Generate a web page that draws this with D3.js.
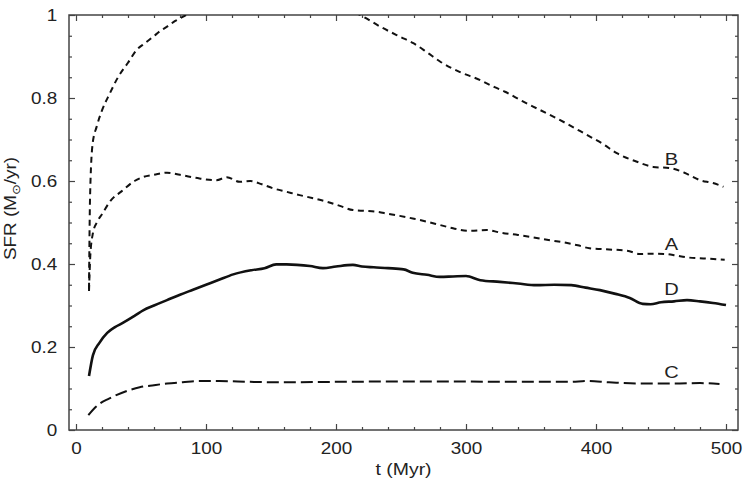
<!DOCTYPE html>
<html>
<head>
<meta charset="utf-8">
<script src="https://cdn.jsdelivr.net/npm/d3@7"></script>
<style>
  html, body { margin: 0; padding: 0; background: #fff; }
  svg { display: block; font-family: 'Liberation Sans', Arial, sans-serif; }
</style>
</head>
<body>
<div id="chart"></div>
<script>
// SFR curves (t in Myr, SFR in Msun/yr)
const tA = [10, 11, 13, 16, 20, 27, 35, 45, 52, 60, 70, 80, 95, 108, 116, 126, 134, 143, 152, 162, 172, 183, 193, 203, 213, 222, 231, 240, 249, 260, 270, 280, 290, 303, 316, 326, 340, 352, 365, 377, 386, 395, 410, 424, 434, 444, 454, 462, 470, 485, 499];
const sfrA = [0.335, 0.42, 0.474, 0.50, 0.52, 0.554, 0.575, 0.60, 0.61, 0.615, 0.62, 0.615, 0.606, 0.602, 0.609, 0.598, 0.60, 0.592, 0.582, 0.574, 0.566, 0.558, 0.55, 0.54, 0.53, 0.528, 0.526, 0.521, 0.516, 0.509, 0.502, 0.494, 0.486, 0.48, 0.482, 0.476, 0.47, 0.464, 0.457, 0.451, 0.445, 0.438, 0.435, 0.432, 0.424, 0.425, 0.424, 0.42, 0.416, 0.413, 0.41];

const tB = [10, 10.8, 12.8, 15.9, 20, 26, 32.5, 40, 46.7, 53, 59.5, 65, 70, 76, 82.5, 90, 100, 120, 150, 180, 200, 212, 221, 234, 249, 259.5, 270, 280, 295, 311, 322, 330, 343, 357, 377, 393, 405, 416, 431, 444, 457, 468, 480, 490, 498];
const sfrB = [0.34, 0.56, 0.69, 0.731, 0.77, 0.811, 0.851, 0.885, 0.916, 0.932, 0.948, 0.962, 0.972, 0.985, 0.996, 1.01, 1.03, 1.06, 1.08, 1.06, 1.03, 1.01, 0.996, 0.972, 0.948, 0.932, 0.91, 0.888, 0.863, 0.843, 0.826, 0.815, 0.793, 0.771, 0.739, 0.711, 0.69, 0.667, 0.647, 0.634, 0.631, 0.62, 0.602, 0.595, 0.586];

const tC = [9.5, 14, 18.5, 25, 31, 40, 49, 60, 70, 82, 95, 110, 134, 160, 200, 250, 300, 326, 350, 380, 393, 410, 433, 460, 480, 495];
const sfrC = [0.036, 0.052, 0.064, 0.075, 0.084, 0.095, 0.103, 0.108, 0.112, 0.115, 0.118, 0.118, 0.116, 0.115, 0.116, 0.117, 0.117, 0.116, 0.116, 0.116, 0.118, 0.115, 0.112, 0.112, 0.113, 0.111];

const tD = [10, 13, 18, 24, 30, 36, 45, 52, 60, 70, 80, 90, 100, 110, 121, 135, 145, 154, 162, 170, 180, 190, 200, 213, 220, 229, 240, 252, 259, 270, 280, 290, 300, 311, 326, 340, 354, 368, 381, 392, 403, 415, 426, 436, 442, 450, 460, 470, 480, 490, 500];
const sfrD = [0.13, 0.18, 0.21, 0.234, 0.248, 0.258, 0.275, 0.289, 0.30, 0.313, 0.326, 0.338, 0.350, 0.362, 0.375, 0.385, 0.39, 0.399, 0.399, 0.398, 0.395, 0.39, 0.394, 0.398, 0.394, 0.392, 0.39, 0.387, 0.379, 0.374, 0.369, 0.370, 0.371, 0.361, 0.357, 0.353, 0.349, 0.350, 0.349, 0.343, 0.337, 0.328, 0.318, 0.304, 0.303, 0.308, 0.31, 0.313, 0.31, 0.306, 0.301];

// curve labels, placed at the end of each curve
const labelNames = ['B', 'A', 'D', 'C'];
const labelT = [458, 458, 458, 458];
const labelSfr = [0.639, 0.434, 0.325, 0.125];

const xMajor = [0, 100, 200, 300, 400, 500];
const yMajor = [0, 0.2, 0.4, 0.6, 0.8, 1];

const width = 744, height = 482;
const margin = { top: 15, right: 6, bottom: 52, left: 69 };
const plotW = width - margin.left - margin.right;
const plotH = height - margin.top - margin.bottom;

const svg = d3.select('#chart').append('svg')
    .attr('width', width)
    .attr('height', height);

const x = d3.scaleLinear()
    .domain([-5.385, 509.23])
    .range([0, plotW]);

const y = d3.scaleLinear()
    .domain([0, 1])
    .range([plotH, 0]);

const g = svg.append('g')
    .attr('transform', `translate(${margin.left}, ${margin.top})`);

// minor ticks every 20 Myr and every 0.05
const xMinor = d3.range(0, 501, 20).filter(v => v % 100 !== 0);
const yMinor = d3.range(0, 21).map(i => i * 0.05).filter(v => Math.abs(v * 5 - Math.round(v * 5)) > 1e-6);

const axisColor = '#444';
// the original type is a little wider than Liberation Sans
const wide = 1.18;

function styleAxis(sel) {
    sel.select('.domain').remove();
    sel.selectAll('line').attr('stroke', axisColor).attr('stroke-width', 1.2);
}

// major ticks (inward), bottom and left carry labels
g.append('g')
    .attr('transform', `translate(0, ${plotH})`)
    .call(d3.axisBottom(x).tickValues(xMajor).tickSize(-6).tickPadding(13).tickFormat(d3.format('d')))
    .call(styleAxis)
    .selectAll('text')
    .style('font-size', '16px')
    .attr('fill', '#222')
    .attr('transform', `scale(${wide},1)`);

g.append('g')
    .call(d3.axisLeft(y).tickValues(yMajor).tickSize(-6).tickPadding(10).tickFormat(d => d === 0 || d === 1 ? d3.format('d')(d) : d3.format('.1f')(d)))
    .call(styleAxis)
    .selectAll('text')
    .style('font-size', '16px')
    .attr('fill', '#222')
    .attr('transform', `scale(${wide},1)`);

g.append('g')
    .call(d3.axisTop(x).tickValues(xMajor).tickSize(-6).tickFormat(''))
    .call(styleAxis);

g.append('g')
    .attr('transform', `translate(${plotW}, 0)`)
    .call(d3.axisRight(y).tickValues(yMajor).tickSize(-6).tickFormat(''))
    .call(styleAxis);

// minor ticks on all four sides
g.append('g')
    .attr('transform', `translate(0, ${plotH})`)
    .call(d3.axisBottom(x).tickValues(xMinor).tickSize(-3).tickFormat(''))
    .call(styleAxis);
g.append('g')
    .call(d3.axisTop(x).tickValues(xMinor).tickSize(-3).tickFormat(''))
    .call(styleAxis);
g.append('g')
    .call(d3.axisLeft(y).tickValues(yMinor).tickSize(-3).tickFormat(''))
    .call(styleAxis);
g.append('g')
    .attr('transform', `translate(${plotW}, 0)`)
    .call(d3.axisRight(y).tickValues(yMinor).tickSize(-3).tickFormat(''))
    .call(styleAxis);

// frame
g.append('rect')
    .attr('width', plotW)
    .attr('height', plotH)
    .attr('fill', 'none')
    .attr('stroke', axisColor)
    .attr('stroke-width', 1.5);

// clip so curve B is cut off at SFR = 1
svg.append('defs').append('clipPath')
    .attr('id', 'plot-clip')
    .append('rect')
    .attr('width', plotW)
    .attr('height', plotH);

const line = d3.line()
    .x(d => x(d[0]))
    .y(d => y(d[1]))
    .curve(d3.curveMonotoneX);

const series = [
    { t: tB, v: sfrB, dash: '6,4.5', w: 2 },
    { t: tA, v: sfrA, dash: '6,4.5', w: 2 },
    { t: tC, v: sfrC, dash: '12,5', w: 2 },
    { t: tD, v: sfrD, dash: null, w: 2.6 }
];

const curves = g.append('g').attr('clip-path', 'url(#plot-clip)');

series.forEach(s => {
    curves.append('path')
        .datum(d3.zip(s.t, s.v))
        .attr('d', line)
        .attr('fill', 'none')
        .attr('stroke', '#111')
        .attr('stroke-width', s.w)
        .attr('stroke-dasharray', s.dash);
});

// curve letters
g.selectAll('text.curve-label')
    .data(labelNames)
    .enter().append('text')
    .attr('class', 'curve-label')
    .attr('transform', (d, i) => `translate(${x(labelT[i])}, ${y(labelSfr[i])}) scale(${wide},1)`)
    .attr('text-anchor', 'middle')
    .style('font-size', '17px')
    .attr('fill', '#222')
    .text(d => d);

// axis titles
svg.append('text')
    .attr('transform', `translate(${margin.left + plotW / 2}, 475) scale(${wide},1)`)
    .attr('text-anchor', 'middle')
    .style('font-size', '16.5px')
    .attr('fill', '#222')
    .text('t (Myr)');

const yTitle = svg.append('text')
    .attr('transform', `translate(16, ${margin.top + plotH / 2 - 14}) rotate(-90) scale(${wide},1)`)
    .attr('text-anchor', 'middle')
    .style('font-size', '16px')
    .attr('fill', '#222');
yTitle.append('tspan').text('SFR (M');
yTitle.append('tspan')
    .style('font-size', '11px')
    .attr('dy', '4')
    .text('⊙');
yTitle.append('tspan').attr('dy', '-4').text('/yr)');
</script>
</body>
</html>
